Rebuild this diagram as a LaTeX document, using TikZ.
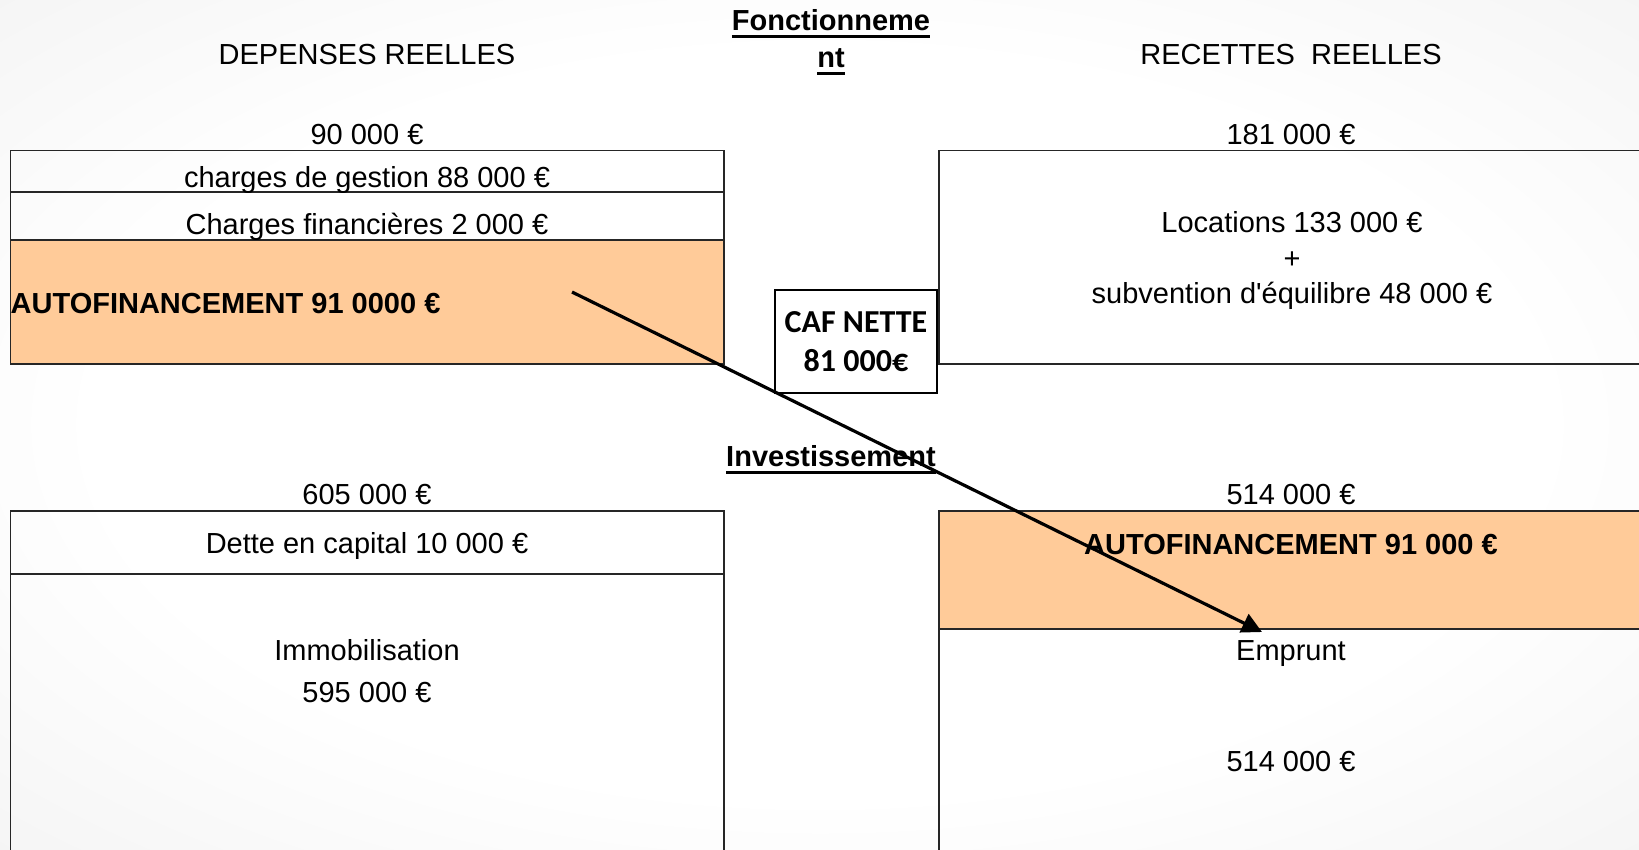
\documentclass[tikz,border=0pt]{standalone}
\usepackage{fontspec}
\setmainfont{Liberation Sans}
\newfontfamily\caffont{Carlito}
\usepackage{tikz}
\usetikzlibrary{positioning, arrows.meta}
\definecolor{autof}{HTML}{FFCB99}
\pgfdeclareradialshading{slidebg}{\pgfpoint{0bp}{0bp}}{color(0bp)=(white); color(22bp)=(white); color(71bp)=(black!14)}
\newsavebox{\ulbox}
\newcommand{\ulhead}[1]{\sbox{\ulbox}{#1}\rlap{\usebox{\ulbox}}\rule[-7pt]{\wd\ulbox}{3pt}}

\begin{document}
\begin{tikzpicture}[x=1pt, y=-1pt,
  every node/.style={font=\fontsize{29}{35.5}\selectfont, inner sep=0pt, anchor=base},
  cell/.style={draw=black!85, line width=1.2pt},
  head/.style={font=\fontsize{29}{37}\selectfont\bfseries, align=center},
  af/.style={font=\fontsize{29}{35}\selectfont\bfseries},
  flow/.style={-{Triangle[length=20pt, width=20pt]}, line width=3.2pt}]
\useasboundingbox (0,0) rectangle (1639,849);
\shade[shading=slidebg] (0,0) rectangle (1639,849);
\clip (0,0) rectangle (1639,849);

\fill[autof] (10.5,240) rectangle (724,364);
\fill[autof] (939,511) rectangle (1643,629);
\draw[cell] (10.5,150.5) rectangle (724,364);
\draw[cell] (10.5,192) -- (724,192);
\draw[cell] (10.5,240) -- (724,240);
\draw[cell] (939,150.5) rectangle (1643,364);
\draw[cell] (10.5,511) rectangle (724,870);
\draw[cell] (10.5,574) -- (724,574);
\draw[cell] (939,511) rectangle (1643,870);
\draw[cell] (939,629) -- (1643,629);

\node[head, anchor=north] (fonc) at (831,9.5) {\ulhead{Fonctionneme}\\\ulhead{nt}};
\node (dep) at (367,64) {DEPENSES REELLES};
\node (rec) at (1291,64) {RECETTES\ \ REELLES};
\node (dtot) at (367,144) {90 000 €};
\node (rtot) at (1291,144) {181 000 €};
\node (gest) at (367,187) {charges de gestion 88 000 €};
\node (fin) at (367,234.5) {Charges financières 2 000 €};
\node[af, anchor=base west] (afl) at (10.5,313) {AUTOFINANCEMENT 91 0000 €};
\node[anchor=north, align=center] (loc) at (1292,211.5) {Locations 133 000 €\\+\\subvention d\textquotesingle équilibre 48 000 €};
\node[draw, line width=2pt, anchor=center, minimum width=162pt, minimum height=103pt, align=center,
  font=\caffont\bfseries\fontsize{32}{38.5}\selectfont] (caf) at (856,341.5) {CAF NETTE\\81 000€};

\node[head] (inv) at (831,466.5) {\ulhead{Investissement}};
\node (itot) at (367,504.5) {605 000 €};
\node (etot) at (1291,504.5) {514 000 €};
\node (dette) at (367,553.5) {Dette en capital 10 000 €};
\node[anchor=north, align=center, font=\fontsize{29}{42}\selectfont] (immo) at (367,639.7) {Immobilisation\\595 000 €};
\node[af] (afr) at (1291,554) {AUTOFINANCEMENT 91 000 €};
\node (emp) at (1291,660.5) {Emprunt};
\node (emtot) at (1291,771.5) {514 000 €};

\coordinate (afout) at (572,292);
\coordinate (afin) at (1262,632);
\draw[flow] (afout) -- (afin);
\end{tikzpicture}
\end{document}
